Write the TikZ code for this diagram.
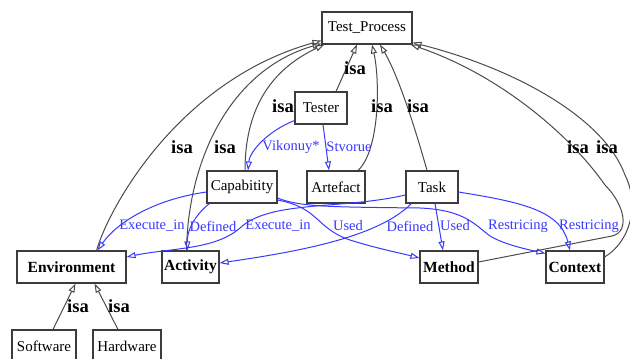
\documentclass[tikz,border=0pt]{standalone}
\usepackage{fontspec}
\setmainfont{Liberation Serif}
\usetikzlibrary{arrows.meta}
\definecolor{relblue}{RGB}{56,56,255}
\definecolor{isagray}{RGB}{75,75,75}
\definecolor{boxgray}{RGB}{60,60,60}
\begin{document}
\begin{tikzpicture}[x=1pt,y=-1pt,
  concept/.style={draw=boxgray, line width=1.1pt, inner sep=0pt, minimum height=32pt,
    font=\fontsize{15}{17}\selectfont},
  keyconcept/.style={concept, font=\fontsize{15.5}{17}\selectfont\bfseries},
  isa/.style={draw=isagray, line width=1pt, -{Triangle[open, length=9pt, width=6pt]}},
  rel/.style={draw=relblue, line width=1pt, -{Triangle[open, length=9pt, width=6pt]}},
  isalabel/.style={font=\fontsize{18.5}{20}\selectfont\bfseries, inner sep=0pt},
  rellabel/.style={text=relblue, font=\fontsize{14.5}{16}\selectfont, inner sep=0pt},
]
\useasboundingbox (0,0) rectangle (630,359);

% concepts
\node[concept, minimum width=90pt] (tp) at (367,28) {Test\_Process};
\node[concept, minimum width=52pt] (tester) at (321,108) {Tester};
\node[concept, minimum width=70pt] (cap) at (242,187) {Capabitity};
\node[concept, minimum width=58pt] (art) at (336,187) {Artefact};
\node[concept, minimum width=52pt] (task) at (432,187) {Task};
\node[keyconcept, minimum width=109pt] (env) at (71.5,267) {Environment};
\node[keyconcept, minimum width=57pt] (act) at (190.5,267) {Activity};
\node[keyconcept, minimum width=58pt] (meth) at (449,267) {Method};
\node[keyconcept, minimum width=58pt] (ctx) at (575,267) {Context};
\node[concept, minimum width=64pt, minimum height=33pt] (sw) at (44,346.5) {Software};
\node[concept, minimum width=68pt, minimum height=33pt] (hw) at (127,346.5) {Hardware};

% isa hierarchy
\draw[isa] ([xshift=25pt]env.north) .. controls (110,205) and (180,80) .. ([yshift=4pt]tp.south west);
\draw[isa] ([xshift=-4pt]act.north) .. controls (188,160) and (230,70) .. ([yshift=1pt]tp.south west);
\draw[isa] ([xshift=3pt]cap.north) .. controls (245,110) and (270,70) .. ([xshift=3pt]tp.south west);
\draw[isa] ([xshift=15pt]tester.north) -- ([xshift=-10pt]tp.south);
\draw[isa] ([xshift=22pt]art.north) .. controls (380,150) and (380,80) .. ([xshift=5pt]tp.south);
\draw[isa] ([xshift=-5pt]task.north) .. controls (410,110) and (395,70) .. ([xshift=13pt]tp.south);
\draw[isa] ([yshift=5pt]meth.east) -- (612,236) .. controls (630,232) and (625,205) .. (605,185)
  .. controls (570,135) and (500,75) .. ([xshift=-2pt]tp.south east);
\draw[isa] ([yshift=10pt]ctx.east) .. controls (630,242) and (640,205) .. (625,175)
  .. controls (605,120) and (520,70) .. ([yshift=2pt]tp.south east);
\draw[isa] ([xshift=9pt]sw.north) -- ([xshift=4pt]env.south);
\draw[isa] ([xshift=-9pt]hw.north) -- ([xshift=23pt]env.south);

\node[isalabel] (l1) at (182,147) {isa};
\node[isalabel] (l2) at (225,147) {isa};
\node[isalabel] (l3) at (283,106) {isa};
\node[isalabel] (l4) at (355,68) {isa};
\node[isalabel] (l5) at (382,106) {isa};
\node[isalabel] (l6) at (418,106) {isa};
\node[isalabel] (l7) at (578,147) {isa};
\node[isalabel] (l8) at (607,147) {isa};
\node[isalabel] (l9) at (78,306) {isa};
\node[isalabel] (l10) at (119,306) {isa};

% relations
\draw[rel] ([yshift=4pt]tester.south west) .. controls (270,130) and (250,150) .. ([xshift=6pt]cap.north);
\draw[rel] ([xshift=2pt]tester.south) -- ([xshift=-7pt]art.north);
\draw[rel] ([yshift=-5pt]cap.west) .. controls (150,200) and (115,225) .. ([xshift=26pt]env.north);
\draw[rel] ([xshift=3pt]cap.south west) .. controls (195,215) and (187,230) .. ([xshift=-3pt]act.north);
\draw[rel] ([yshift=-8pt]task.west) .. controls (340,210) and (270,200) .. (240,228)
  .. controls (215,250) and (170,248) .. ([yshift=10pt]env.east);
\draw[rel] ([xshift=6pt]task.south west) .. controls (380,235) and (310,250) .. ([yshift=4pt]act.east);
\draw[rel] ([xshift=3pt]task.south) -- ([xshift=-6pt]meth.north);
\draw[rel] ([yshift=-13pt]cap.east) .. controls (320,208) and (315,228) .. (350,240)
  .. controls (375,248) and (400,253) .. ([yshift=9pt]meth.west);
\draw[rel] ([yshift=-11pt]cap.east) .. controls (300,207) and (330,207) .. (420,208)
  .. controls (465,210) and (475,225) .. (490,236)
  .. controls (505,245) and (530,250) .. ([yshift=-3pt]ctx.north west);
\draw[rel] ([yshift=-5pt]task.east) .. controls (520,202) and (560,210) .. ([xshift=-5pt]ctx.north);

\node[rellabel] (r1) at (291,147) {Vikonuy*};
\node[rellabel] (r2) at (349,147) {Stvorue};
\node[rellabel] (r3) at (152,226) {Execute\_in};
\node[rellabel] (r4) at (213,226) {Defined};
\node[rellabel] (r5) at (278,226) {Execute\_in};
\node[rellabel] (r6) at (348,226) {Used};
\node[rellabel] (r7) at (410,226) {Defined};
\node[rellabel] (r8) at (455,226) {Used};
\node[rellabel] (r9) at (518,226) {Restricing};
\node[rellabel] (r10) at (589,226) {Restricing};
\end{tikzpicture}
\end{document}
